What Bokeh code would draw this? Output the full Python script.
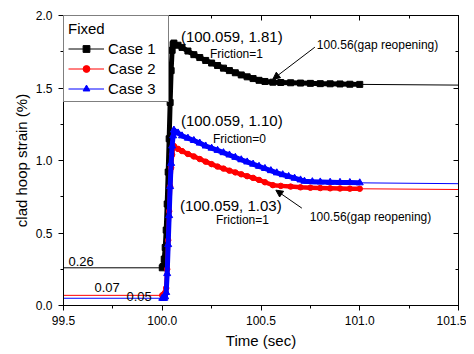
import numpy as np
from bokeh.plotting import figure
from bokeh.models import (Range1d, LinearAxis, SingleIntervalTicker, NumeralTickFormatter,
                          Label, Arrow, NormalHead, Legend, LegendItem)
from bokeh.embed import file_html
from bokeh.resources import INLINE

# ---------------- data ----------------
case_names = ["Case 1", "Case 2", "Case 3"]
legend_title = "Fixed"

t_start, t_end = 99.5, 101.5

# Case 1 (black, Friction=1)
t1 = [100.000, 100.005, 100.010, 100.015, 100.020, 100.025, 100.030, 100.035, 100.040, 100.045,
      100.050, 100.055, 100.059, 100.08, 100.10, 100.13, 100.16, 100.19, 100.22, 100.25,
      100.28, 100.31, 100.34, 100.37, 100.40, 100.43, 100.46, 100.49, 100.52, 100.56,
      100.60, 100.65, 100.70, 100.75, 100.80, 100.85, 100.90, 100.95, 101.00]
y1 = [0.26, 0.27, 0.32, 0.40, 0.52, 0.70, 0.92, 1.15, 1.40, 1.62,
      1.76, 1.80, 1.81, 1.795, 1.78, 1.755, 1.73, 1.71, 1.69, 1.672,
      1.655, 1.637, 1.62, 1.605, 1.59, 1.577, 1.565, 1.553, 1.545, 1.54,
      1.538, 1.536, 1.534, 1.532, 1.530, 1.529, 1.528, 1.526, 1.525]
pre1, post1 = 0.26, 1.52

# Case 2 (red, Friction=1)
t2 = [100.000, 100.005, 100.010, 100.015, 100.020, 100.025, 100.030, 100.035, 100.040, 100.045,
      100.050, 100.055, 100.059, 100.08, 100.10, 100.13, 100.16, 100.19, 100.22, 100.25,
      100.28, 100.31, 100.34, 100.37, 100.40, 100.43, 100.46, 100.49, 100.52, 100.56,
      100.60, 100.65, 100.70, 100.75, 100.80, 100.85, 100.90, 100.95, 101.00]
y2 = [0.07, 0.07, 0.08, 0.09, 0.12, 0.25, 0.45, 0.65, 0.82, 0.95,
      1.04, 1.09, 1.10, 1.08, 1.065, 1.045, 1.028, 1.01, 0.992, 0.975,
      0.958, 0.944, 0.93, 0.918, 0.905, 0.892, 0.88, 0.866, 0.85, 0.83,
      0.825, 0.82, 0.815, 0.812, 0.81, 0.808, 0.807, 0.806, 0.805]
pre2, post2 = 0.07, 0.80

# Case 3 (blue, Friction=0)
t3 = [100.000, 100.005, 100.010, 100.015, 100.020, 100.025, 100.030, 100.035, 100.040, 100.045,
      100.050, 100.055, 100.059, 100.08, 100.10, 100.13, 100.16, 100.19, 100.22, 100.25,
      100.28, 100.31, 100.34, 100.37, 100.40, 100.43, 100.46, 100.49, 100.52, 100.55,
      100.58, 100.61, 100.64, 100.67, 100.70, 100.72, 100.76, 100.80, 100.85, 100.90,
      100.95, 101.00]
y3 = [0.05, 0.05, 0.05, 0.06, 0.09, 0.22, 0.42, 0.62, 0.82, 0.98,
      1.10, 1.17, 1.21, 1.19, 1.17, 1.154, 1.138, 1.12, 1.10, 1.085,
      1.07, 1.054, 1.038, 1.022, 1.005, 0.99, 0.975, 0.96, 0.945, 0.93,
      0.915, 0.902, 0.89, 0.878, 0.866, 0.857, 0.854, 0.852, 0.85, 0.849,
      0.848, 0.846]
pre3, post3 = 0.05, 0.84

peak_t = 100.059
gap_t = 100.56

peak_texts = ["(100.059, 1.81)", "(100.059, 1.10)", "(100.059, 1.03)"]
friction_texts = ["Friction=1", "Friction=0", "Friction=1"]
gap_text = "100.56(gap reopening)"

# ---------------- figure ----------------
FONT = "Liberation Sans"
FW, FH = 395, 290
DX = (t_end - t_start) / FW
DY = 2.0 / FH

p = figure(frame_width=FW, frame_height=FH,
           min_border_left=63, min_border_right=8, min_border_top=15, min_border_bottom=45,
           x_range=Range1d(t_start, t_end), y_range=Range1d(0, 2.0),
           output_backend="svg", toolbar_location=None,
           x_axis_label="Time (sec)", y_axis_label="clad hoop strain (%)")
p.grid.visible = False
p.outline_line_color = "black"
p.background_fill_color = "white"
p.border_fill_color = "white"


def style_axis(ax, inward=False):
    ax.ticker = SingleIntervalTicker(interval=0.5, num_minor_ticks=2)
    ax.formatter = NumeralTickFormatter(format="0.0")
    ax.axis_line_color = "black"
    ax.major_tick_line_color = "black"
    ax.minor_tick_line_color = "black"
    if inward:
        ax.major_tick_in, ax.major_tick_out = 5, 0
        ax.minor_tick_in, ax.minor_tick_out = 3, 0
        ax.major_label_text_font_size = "1px"
        ax.major_label_text_color = None
        ax.major_label_standoff = 0
    else:
        ax.major_tick_in, ax.major_tick_out = 0, 5
        ax.minor_tick_in, ax.minor_tick_out = 0, 3
        ax.major_label_text_font = FONT
        ax.major_label_text_font_size = "12px"
        ax.major_label_text_color = "black"
        ax.axis_label_text_font = FONT
        ax.axis_label_text_font_size = "15px"
        ax.axis_label_text_font_style = "normal"
        ax.axis_label_text_color = "black"


xb = p.below[0]
yl = p.left[0]
style_axis(xb)
style_axis(yl)
xb.major_label_standoff = 5
xb.axis_label_standoff = 4
yl.major_label_standoff = 6
yl.axis_label_standoff = 3

top_ax = LinearAxis()
right_ax = LinearAxis()
style_axis(top_ax, inward=True)
style_axis(right_ax, inward=True)
p.add_layout(top_ax, "above")
p.add_layout(right_ax, "right")

series = [
    (t1, y1, pre1, post1, "black", "square", 6, 5),
    (t2, y2, pre2, post2, "red", "circle", 5.5, 4.5),
    (t3, y3, pre3, post3, "blue", "triangle", 7, 5),
]

items = []
for name, (t, y, pre, post, col, mk, ms, lw) in zip(case_names, series):
    full_t = [t_start] + list(t) + [t_end]
    full_y = [pre] + list(y) + [post]
    thin = p.line(full_t, full_y, line_color=col, line_width=1)
    p.line(t, y, line_color=col, line_width=lw, line_join="round")
    sc = p.scatter(t, y, marker=mk, size=ms, fill_color=col, line_color=col)
    items.append(LegendItem(label=name, renderers=[thin, sc]))

legend = Legend(items=items, location="top_left", margin=0, padding=4, spacing=3,
                glyph_width=36, glyph_height=17, label_height=17, label_standoff=4,
                label_width=56,
                label_text_font=FONT, label_text_font_size="15px", label_text_color="black",
                title=legend_title, title_text_font=FONT, title_text_font_size="15px",
                title_text_font_style="normal", title_text_color="black", title_standoff=3,
                border_line_color="black", border_line_width=1,
                background_fill_color="white", background_fill_alpha=1)
p.add_layout(legend)


def label(x, y, text, dx, dy, size):
    p.add_layout(Label(x=x, y=y, x_offset=dx, y_offset=dy, text=text,
                       text_font=FONT, text_font_size=size, text_color="black",
                       text_align="left", text_baseline="middle"))


# peak annotations
pk1 = float(np.interp(peak_t, t1, y1))
pk3 = float(np.interp(peak_t, t3, y3))
pk2 = float(np.interp(peak_t, t2, y2))
label(peak_t, pk1, peak_texts[0], 7, 7, "15px")
label(peak_t, pk1, friction_texts[0], 36, -11, "12px")
label(peak_t, pk3, peak_texts[1], 7, 10, "15px")
label(peak_t, pk3, friction_texts[1], 39, -9, "12px")
label(peak_t, pk2, peak_texts[2], 6, -59, "15px")
label(peak_t, pk2, friction_texts[2], 42, -74, "12px")

# gap reopening arrows
g1 = float(np.interp(gap_t, t1, y1))
g2 = float(np.interp(gap_t, t2, y2))
p.add_layout(Arrow(end=NormalHead(size=7, fill_color="black", line_color="black", line_width=1),
                   x_start=gap_t + 42 * DX, y_start=g1 + 35 * DY,
                   x_end=gap_t, y_end=g1 + 3 * DY, line_color="black", line_width=1))
label(gap_t, g1, gap_text, 44, 37, "12px")
p.add_layout(Arrow(end=NormalHead(size=7, fill_color="black", line_color="black", line_width=1),
                   x_start=gap_t + 29 * DX, y_start=g2 - 23 * DY,
                   x_end=gap_t + 3 * DX, y_end=g2 - 5 * DY, line_color="black", line_width=1))
label(gap_t, g2, gap_text, 37, -32, "12px")

# initial value labels
label(t_start, pre1, f"{pre1:.2f}", 5, 6, "13px")
label(t_start, pre2, f"{pre2:.2f}", 31, 8, "13px")
label(t_start, pre3, f"{pre3:.2f}", 63, 2, "13px")

open("out.html", "w").write(file_html(p, INLINE))
